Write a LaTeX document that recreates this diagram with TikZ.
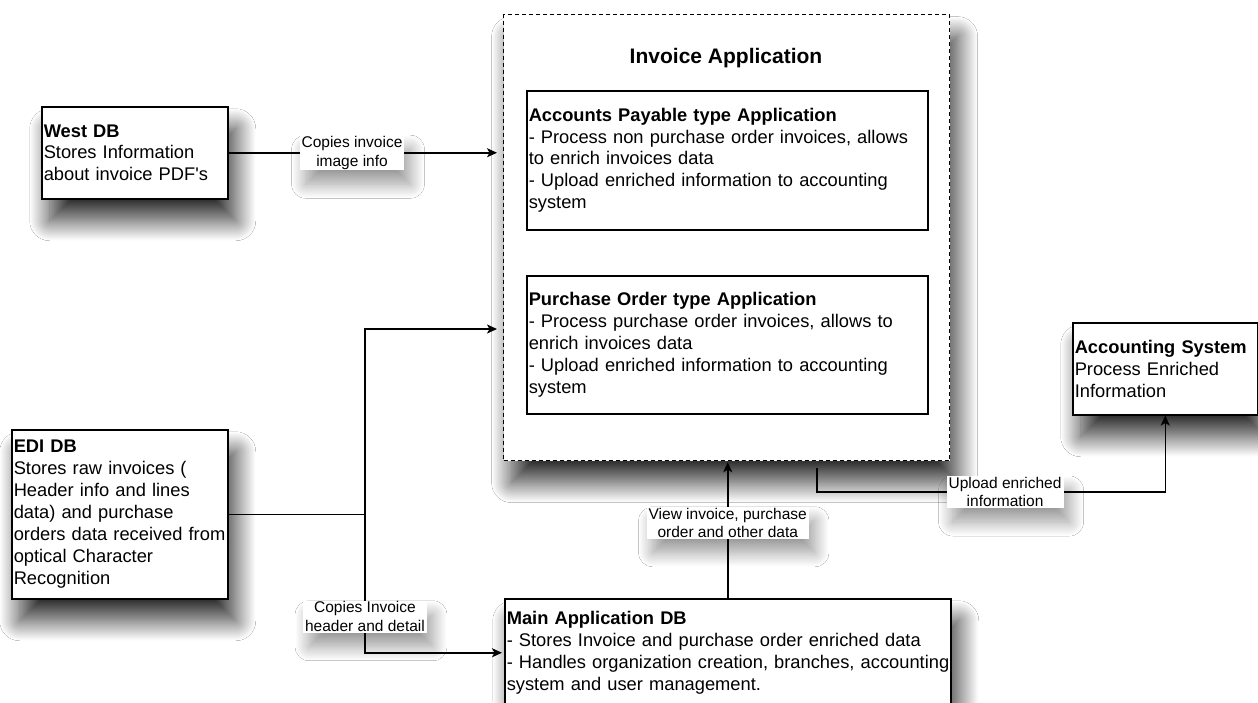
\documentclass[tikz,border=0pt]{standalone}
\usepackage{fontspec}
\setmainfont{Liberation Sans}
\usetikzlibrary{arrows.meta}
\usetikzlibrary{shadows.blur}
\newcommand{\bodyfont}{\fontsize{18.3}{21.9}\selectfont\hyphenpenalty=10000\relax}
\newcommand{\labelfont}{\fontsize{15.5}{18.6}\selectfont}
\newcommand{\titlefont}{\fontsize{21}{25}\selectfont\bfseries}
\tikzset{
    soft shadow/.style={blur shadow={shadow xshift=8pt, shadow yshift=-22pt, shadow blur radius=20pt, shadow opacity=80, shadow blur steps=30}},
    label shadow/.style={blur shadow={shadow xshift=6pt, shadow yshift=-14pt, shadow blur radius=14pt, shadow opacity=40, shadow blur steps=20}},
    box/.style={draw, line width=1.5pt, fill=white, anchor=north west, align=left, inner xsep=2pt, inner ysep=0pt, font=\bodyfont},
    container/.style={draw, line width=1.2pt, dash pattern=on 4pt off 3pt, fill=white, anchor=north west},
    edge label/.style={fill=white, align=center, inner xsep=2pt, inner ysep=1pt, font=\labelfont, label shadow},
    flow/.style={line width=1.5pt, -{Stealth[length=10pt, width=9pt, inset=2.5pt]}}
}

\begin{document}
\begin{tikzpicture}[x=1pt, y=-1pt]
    % Globals
    \pgfmathsetmacro{\picW}{1258}
    \pgfmathsetmacro{\picH}{702}
    \useasboundingbox (0,0) rectangle (\picW,\picH);
    \fill[white] (0,0) rectangle (\picW,\picH);

    % West DB
    \node[box, soft shadow, text width=182pt, minimum height=92pt] (WEST_DB) at (41,106)
        {\textbf{West DB}\\Stores Information\\about invoice PDF\textquotesingle s};

    % EDI DB
    \node[box, soft shadow, text width=212pt, minimum height=169pt] (EDI_DB) at (11,429)
        {\textbf{EDI DB}\\Stores raw invoices (\\Header info and lines\\data) and purchase\\\mbox{orders data received from}\\optical Character\\Recognition};

    % Invoice application
    \node[container, soft shadow, minimum width=446pt, minimum height=446pt] (INV_APP) at (503,14) {};
    \node[font=\titlefont] (INV_TITLE) at (726,58) {Invoice Application};
    \node[box, text width=397pt, minimum height=139pt] (AP_APP) at (526,90)
        {\textbf{Accounts Payable type Application}\\- Process non purchase order invoices, allows\\to enrich invoices data\\- Upload enriched information to accounting\\system};
    \node[box, text width=397pt, minimum height=138pt] (PO_APP) at (526,275)
        {\textbf{Purchase Order type Application}\\- Process purchase order invoices, allows to\\enrich invoices data\\- Upload enriched information to accounting\\system};

    % Accounting system
    \node[box, soft shadow, text width=181pt, minimum height=92pt] (ACC_SYS) at (1072,322)
        {\textbf{Accounting System}\\Process Enriched\\Information};

    % Main application DB
    \node[box, soft shadow, text width=442pt, minimum height=108pt] (MAIN_DB) at (504,598)
        {\textbf{Main Application DB}\\- Stores Invoice and purchase order enriched data\\\mbox{- Handles organization creation, branches, accounting}\\system and user management.};

    % Connectors
    \draw[flow, shorten >=6pt] (WEST_DB) -- (WEST_DB.east -| INV_APP.west)
        node[pos=0.45, edge label] {Copies invoice\\image info};

    \coordinate (EDI_JOINT) at (EDI_DB.east -| 365,0);
    \coordinate (PO_IN) at (INV_APP.west |- 0,329);
    \draw[flow, shorten >=6pt] (EDI_DB) -- (EDI_JOINT) |- (PO_IN);
    \draw[flow, shorten >=2pt] (EDI_JOINT) |- node[pos=0.37, edge label] {Copies Invoice\\header and detail} (MAIN_DB.west);

    \draw[flow, shorten >=1pt] (MAIN_DB.north) -- (MAIN_DB.north |- INV_APP.south)
        node[pos=0.55, edge label] {View invoice, purchase\\order and other data};

    \coordinate (UPLOAD_S) at (817,468);
    \coordinate (UPLOAD_E) at (ACC_SYS.south |- 0,492);
    \draw[flow] (UPLOAD_S) |- node[pos=0.77, edge label] {Upload enriched\\information} (UPLOAD_E) -- (ACC_SYS.south);
\end{tikzpicture}
\end{document}
